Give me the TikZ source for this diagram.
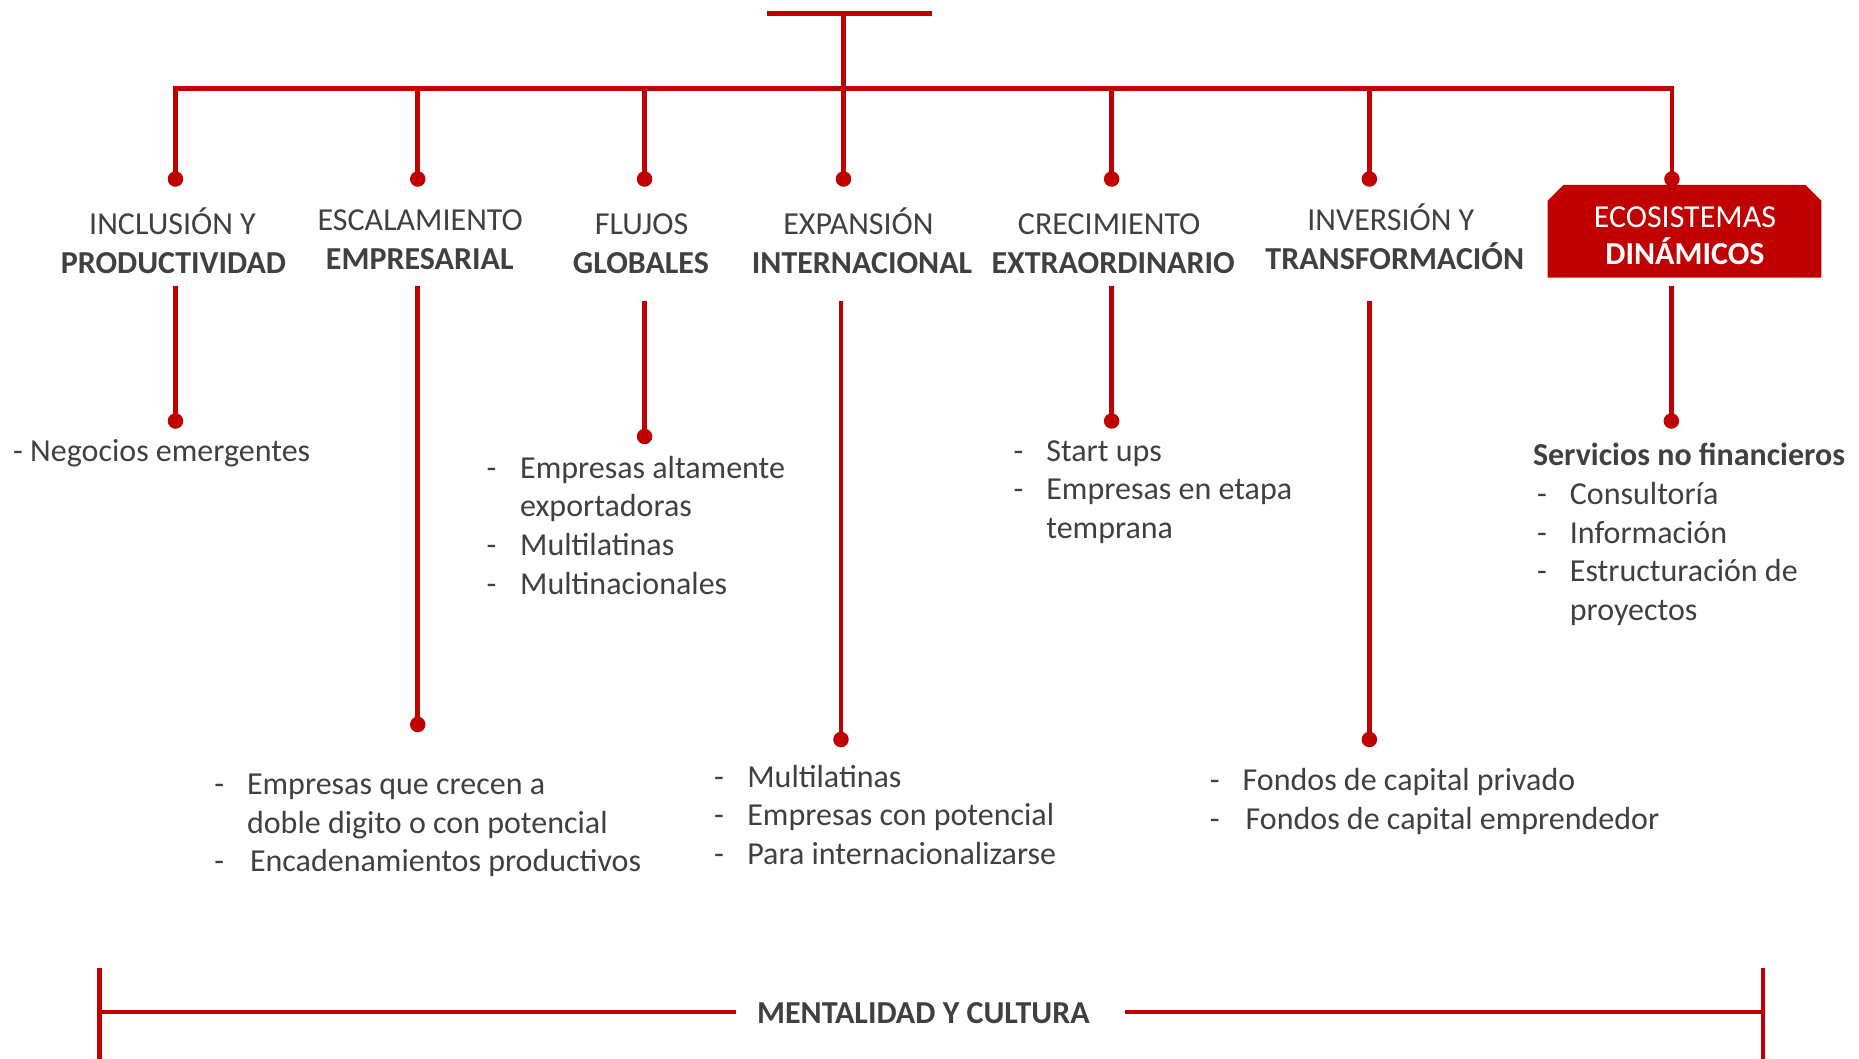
\documentclass[tikz,border=0pt]{standalone}
\usepackage{fontspec}
\setmainfont{Carlito}
\definecolor{rojo}{HTML}{C00000}
\definecolor{gris}{HTML}{404040}
\tikzset{
  redline/.style={draw=rojo, line width=4.6pt},
  dotnode/.style={circle, fill=rojo, minimum size=15.5pt, inner sep=0pt},
  txt/.style={text=gris, font=\fontsize{32}{38.5}\selectfont, inner sep=0pt, anchor=base west},
  txtb/.style={txt, font=\fontsize{32}{38.5}\selectfont\bfseries},
  head/.style={text=gris, font=\fontsize{32}{38.5}\selectfont, inner sep=0pt, anchor=base},
  headb/.style={head, font=\fontsize{32}{38.5}\selectfont\bfseries},
}
\begin{document}
\begin{tikzpicture}[x=1pt,y=-1pt]
\useasboundingbox (0,0) rectangle (1859,1058);
\begin{scope}[xscale=0.997]
% ---- top bar and stem
\coordinate (tl) at (769.5,13.5);
\coordinate (tr) at (935,13.5);
\coordinate (tm) at (846,13.5);
\coordinate (hm) at (846,88.5);
\draw[redline] (tl) -- (tr);
\draw[redline] (tm) -- (hm);

% ---- ecosystem box
\fill[rojo] (1552.3,277.7) -- (1552.3,200.8) -- (1568.3,184.8) -- (1810.8,184.8)
  -- (1826.8,200.8) -- (1826.8,277.7) -- cycle;

% ---- upper dots
\node[dotnode] (u1) at (176,179) {};
\node[dotnode] (u2) at (419,179) {};
\node[dotnode] (u3) at (646.5,179) {};
\node[dotnode] (u4) at (846,179) {};
\node[dotnode] (u5) at (1115,179) {};
\node[dotnode] (u6) at (1373.5,179) {};
\node[dotnode] (u7) at (1677,179) {};

\coordinate (h2) at (419,88.5);
\coordinate (h3) at (646.5,88.5);
\coordinate (h5) at (1115,88.5);
\coordinate (h6) at (1373.5,88.5);

\draw[redline, line join=miter] (u1.center) |- (hm) -| (u7.center);
\draw[redline] (h2) -- (u2.center);
\draw[redline] (h3) -- (u3.center);
\draw[redline] (hm) -- (u4.center);
\draw[redline] (h5) -- (u5.center);
\draw[redline] (h6) -- (u6.center);

% ---- headers
\node[head]  (a1) at (173,234) {INCLUSIÓN Y};
\node[headb] (b1) at (174,273) {PRODUCTIVIDAD};
\node[head]  (a2) at (421.5,230.4) {ESCALAMIENTO};
\node[headb] (b2) at (421,269) {EMPRESARIAL};
\node[head]  (a3) at (643.5,234) {FLUJOS};
\node[headb] (b3) at (642.8,273) {GLOBALES};
\node[head]  (a4) at (861,234) {EXPANSIÓN};
\node[headb] (b4) at (864.6,273) {INTERNACIONAL};
\node[head]  (a5) at (1112.5,234.5) {CRECIMIENTO};
\node[headb] (b5) at (1116.5,273) {EXTRAORDINARIO};
\node[head]  (a6) at (1395,230) {INVERSIÓN Y};
\node[headb] (b6) at (1399,269) {TRANSFORMACIÓN};
\node[head, text=white]  (a7) at (1690,227) {ECOSISTEMAS};
\node[headb, text=white] (b7) at (1690,264.5) {DINÁMICOS};

% ---- lower connectors
\coordinate (s1) at (176,285.5);
\coordinate (s2) at (419,285.5);
\coordinate (s3) at (646.5,300.7);
\coordinate (s4) at (843.5,300.7);
\coordinate (s5) at (1115,285.5);
\coordinate (s6) at (1373.5,300.7);
\coordinate (s7) at (1676.4,285.5);
\node[dotnode] (d1) at (176,421) {};
\node[dotnode] (d2) at (419,724.5) {};
\node[dotnode] (d3) at (646.5,436.5) {};
\node[dotnode] (d4) at (843.5,739.5) {};
\node[dotnode] (d5) at (1115,421) {};
\node[dotnode] (d6) at (1373.5,739.5) {};
\node[dotnode] (d7) at (1676.4,421) {};
\foreach \i in {1,...,7} { \draw[redline] (s\i) -- (d\i.center); }

% ---- lists
\node[txt] (n1) at (13,461) {- Negocios emergentes};

\node[txt] (f1d) at (488,478) {-};
\node[txt] (f1) at (521.5,478) {Empresas altamente};
\node[txt] (f2) at (521.5,516.5) {exportadoras};
\node[txt] (f3d) at (488,555) {-};
\node[txt] (f3) at (521.5,555) {Multilatinas};
\node[txt] (f4d) at (488,594) {-};
\node[txt] (f4) at (521.5,594) {Multinacionales};

\node[txt] (e1d) at (214.8,794) {-};
\node[txt] (e1) at (247.6,794) {Empresas que crecen a};
\node[txt] (e2) at (247.6,833) {doble digito o con potencial};
\node[txt] (e3d) at (214.8,871) {-};
\node[txt] (e3) at (250.6,871) {Encadenamientos productivos};

\node[txt] (x1d) at (716,787.4) {-};
\node[txt] (x1) at (749.4,787.4) {Multilatinas};
\node[txt] (x2d) at (716,825.9) {-};
\node[txt] (x2) at (749.4,825.9) {Empresas con potencial};
\node[txt] (x3d) at (716,864.4) {-};
\node[txt] (x3) at (749.4,864.4) {Para internacionalizarse};

\node[txt] (c1d) at (1016.5,461) {-};
\node[txt] (c1) at (1049.3,461) {Start ups};
\node[txt] (c2d) at (1016.5,499.5) {-};
\node[txt] (c2) at (1049.3,499.5) {Empresas en etapa};
\node[txt] (c3) at (1049.3,538) {temprana};

\node[txtb] (g0) at (1537.4,465.5) {Servicios no financieros};
\node[txt] (g1d) at (1541.6,504.4) {-};
\node[txt] (g1) at (1574.4,504.4) {Consultoría};
\node[txt] (g2d) at (1541.6,543) {-};
\node[txt] (g2) at (1574.4,543) {Información};
\node[txt] (g3d) at (1541.6,581.5) {-};
\node[txt] (g3) at (1574.4,581.5) {Estructuración de};
\node[txt] (g4) at (1574.4,620) {proyectos};

\node[txt] (i1d) at (1213.4,790.8) {-};
\node[txt] (i1) at (1246.2,790.8) {Fondos de capital privado};
\node[txt] (i2d) at (1213.4,829) {-};
\node[txt] (i2) at (1249.2,829) {Fondos de capital emprendedor};

% ---- bottom bracket
\node[headb] (m) at (926.2,1023) {MENTALIDAD Y CULTURA};
\coordinate (bl1) at (99.6,967.5);
\coordinate (bl2) at (99.6,1060);
\coordinate (bl) at (99.6,1012);
\coordinate (blm) at (738.6,1012);
\coordinate (br1) at (1768.3,967.5);
\coordinate (br2) at (1768.3,1060);
\coordinate (br) at (1768.3,1012);
\coordinate (brm) at (1128.7,1012);
\draw[redline] (bl1) -- (bl2);
\draw[redline] (br1) -- (br2);
\draw[redline] (bl) -- (blm);
\draw[redline] (brm) -- (br);
\end{scope}
\end{tikzpicture}
\end{document}
